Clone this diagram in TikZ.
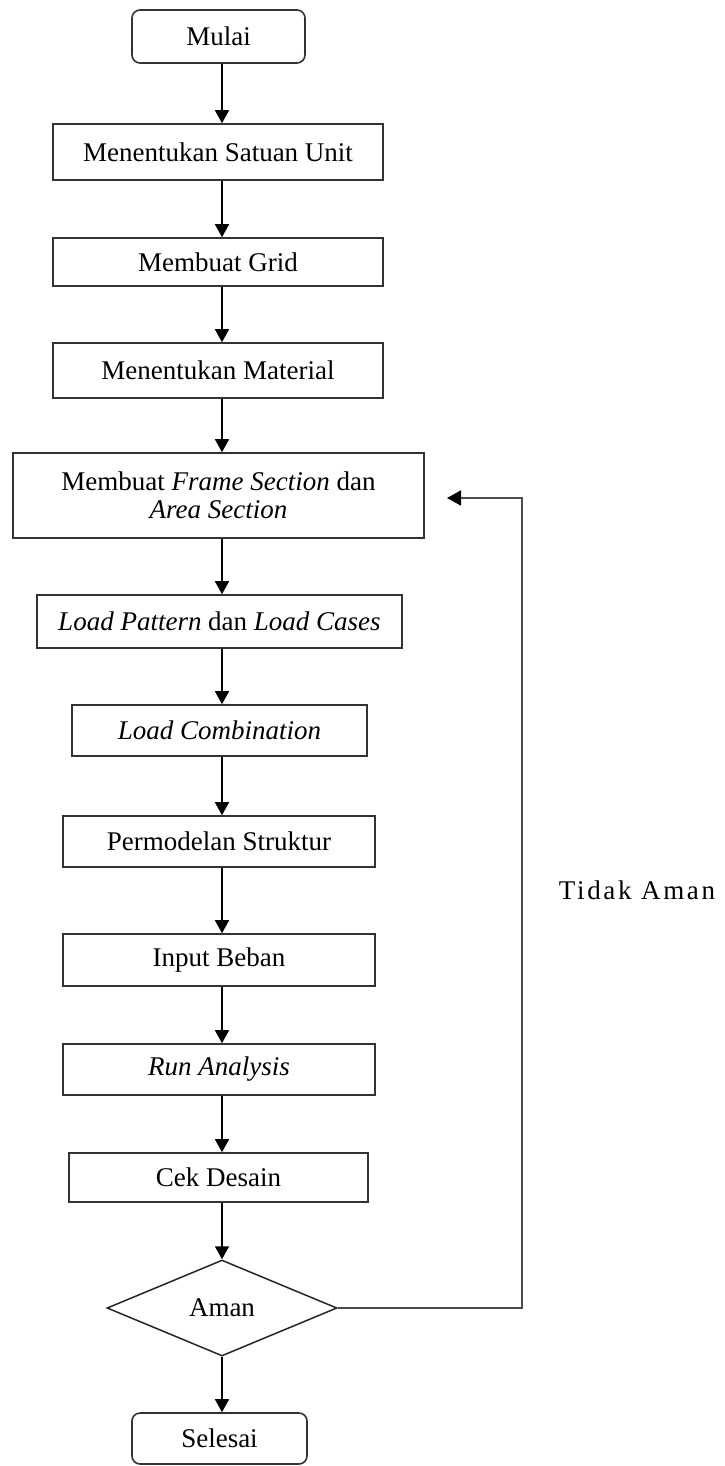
\documentclass[tikz,border=0pt]{standalone}
\usepackage{fontspec}
\setmainfont{Liberation Serif}
\usetikzlibrary{arrows.meta,shapes.geometric}

\tikzset{
  txt/.style={font=\fontsize{27}{28}\selectfont, text=black},
  procbox/.style={txt, draw=black!80, line width=1.6pt, fill=white,
                  inner sep=0pt, align=center},
  termbox/.style={procbox, rounded corners=8pt},
  decbox/.style={txt, draw=black!85, line width=1.5pt, diamond, aspect=2.4,
                 inner sep=0pt, minimum width=230pt, minimum height=96pt},
  flow/.style={line width=1.6pt, black, -{Triangle[length=13pt,width=14pt]}},
  backflow/.style={line width=1.8pt, black!70, -{Triangle[length=14pt,width=15pt,black]}}
}

\begin{document}
\begin{tikzpicture}[x=1pt,y=-1pt]
  \useasboundingbox[fill=white] (0,0) rectangle (724,1466);
  \coordinate (ax) at (222,0);

  % process chain
  \node[termbox, minimum width=173pt, minimum height=53pt] (mulai) at (218.5,36.5) {Mulai};
  \node[procbox, minimum width=330pt, minimum height=56pt] (satuan) at (218,152) {Menentukan Satuan Unit};
  \node[procbox, minimum width=330pt, minimum height=48pt] (grid) at (218,262) {Membuat Grid};
  \node[procbox, minimum width=330pt, minimum height=55pt] (material) at (218,370.5) {Menentukan Material};
  \node[procbox, minimum width=411pt, minimum height=85pt] (frame) at (218.5,495.5)
       {Membuat \textit{Frame Section} dan\\ \textit{Area Section}};
  \node[procbox, minimum width=365pt, minimum height=53pt] (pattern) at (219.5,621.5)
       {\textit{Load Pattern} dan \textit{Load Cases}};
  \node[procbox, minimum width=295pt, minimum height=51pt] (combi) at (219.5,730.5) {\textit{Load Combination}};
  \node[procbox, minimum width=312pt, minimum height=51pt] (model) at (219,841.5) {Permodelan Struktur};
  \node[procbox, minimum width=312pt, minimum height=52pt] (beban) at (219,960) {Input Beban};
  \node[procbox, minimum width=312pt, minimum height=51pt] (run) at (219,1069.5) {\textit{Run Analysis}};
  \node[procbox, minimum width=299pt, minimum height=49pt] (cek) at (218.5,1177.5) {Cek Desain};
  \node[decbox] (aman) at (222,1308) {Aman};
  \node[termbox, minimum width=175pt, minimum height=51pt] (selesai) at (219.5,1438.5) {Selesai};

  % label of the loop back
  \node[txt, font=\fontsize{27}{28}\selectfont\addfontfeature{LetterSpace=10}] (tidak) at (637,890) {Tidak Aman};

  % downward arrows
  \foreach \a/\b in {mulai/satuan, satuan/grid, grid/material, material/frame,
                     frame/pattern, pattern/combi, combi/model, model/beban,
                     beban/run, run/cek, cek/aman, aman/selesai}
    \draw[flow] (\a.south -| ax) -- (\b.north -| ax);

  % loop back to the section step
  \coordinate (loopcorner) at (522,498);
  \coordinate (looptip) at (447,498);
  \draw[backflow] (aman.east) -| (loopcorner) -- (looptip);
\end{tikzpicture}
\end{document}
